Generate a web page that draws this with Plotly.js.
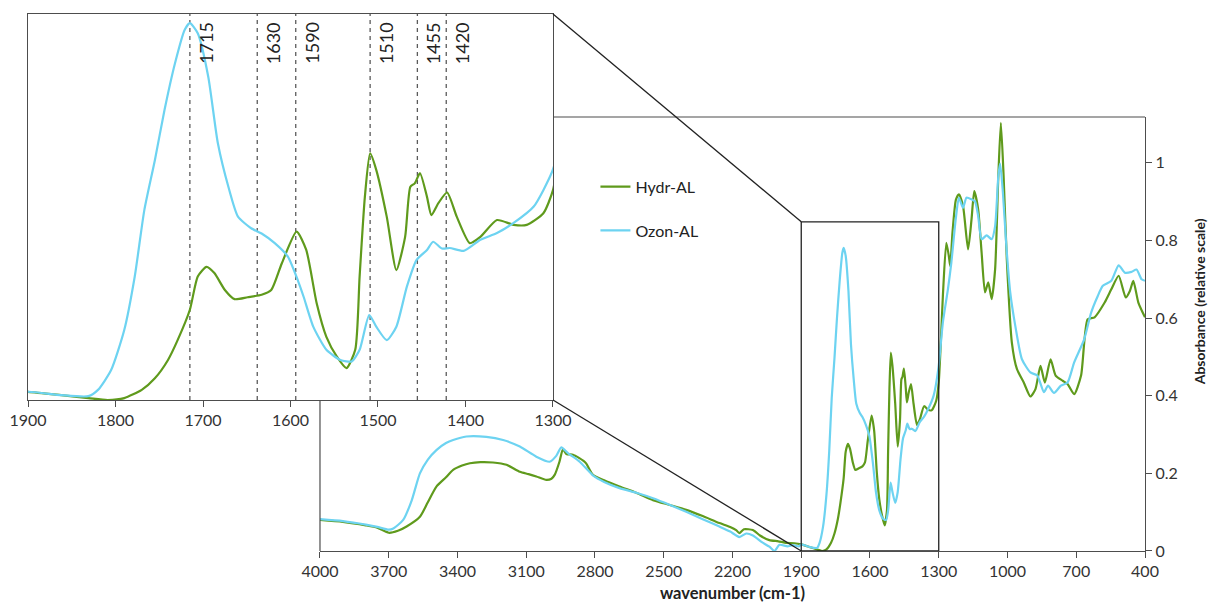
<!DOCTYPE html>
<html>
<head>
<meta charset="utf-8">
<script src="https://cdn.plot.ly/plotly-3.0.1.min.js"></script>
<style>html,body{margin:0;padding:0;background:#fff;}#chart{width:1211px;height:610px;}</style>
</head>
<body>
<div id="chart"></div>
<script>
// ---- data ----
const hydrWn = [4000,3900,3800,3750,3700,3660,3622,3564,3530,3492,3450,3419,3380,3346,3300,3245,3186,3128,3090,3056,3012,2990,2976,2955,2940,2925,2896,2870,2850,2838,2809,2760,2693,2620,2547,2470,2402,2330,2257,2210,2184,2170,2150,2111,2080,2039,2000,1966,1930,
1900,1862,1831,1809,1790,1770,1755,1740,1729,1715,1706,1696,1687,1675,1664,1649,1633,1622,1610,1593,1582,1570,1559,1547,1536,1526,1521,1515,1509,1502,1490,1479,1469,1463,1458,1452,1444,1439,1431,1421,1410,1395,1383,1364,1345,1330,1311,1300,
1290,1282,1267,1256,1250,1240,1225,1212,1194,1172,1157,1145,1128,1113,1098,1084,1069,1054,1040,1029,1017,1003,981,959,929,900,878,856,837,812,790,760,738,709,679,650,620,576,547,515,484,466,451,429,400];
const hydrAbs = [0.080,0.075,0.066,0.060,0.047,0.052,0.063,0.088,0.125,0.166,0.190,0.209,0.220,0.226,0.229,0.228,0.222,0.204,0.198,0.192,0.183,0.186,0.196,0.230,0.262,0.250,0.248,0.240,0.232,0.225,0.196,0.182,0.166,0.150,0.131,0.118,0.106,0.090,0.072,0.062,0.054,0.046,0.056,0.054,0.040,0.028,0.025,0.021,0.020,
0.017,0.010,0.004,0.000,0.004,0.021,0.045,0.083,0.124,0.187,0.256,0.276,0.263,0.228,0.209,0.213,0.218,0.228,0.283,0.349,0.311,0.200,0.131,0.090,0.066,0.104,0.256,0.421,0.511,0.477,0.380,0.269,0.338,0.442,0.449,0.470,0.421,0.383,0.408,0.430,0.380,0.325,0.338,0.373,0.363,0.363,0.387,0.435,
0.550,0.657,0.794,0.760,0.734,0.820,0.905,0.919,0.889,0.777,0.854,0.927,0.880,0.769,0.666,0.692,0.649,0.726,0.966,1.103,0.966,0.751,0.537,0.469,0.434,0.398,0.417,0.477,0.434,0.494,0.452,0.439,0.430,0.404,0.452,0.597,0.602,0.640,0.674,0.709,0.653,0.670,0.696,0.640,0.602];

const ozonWn = [4000,3900,3800,3750,3700,3680,3637,3600,3564,3530,3492,3450,3419,3361,3274,3201,3128,3056,2998,2969,2947,2918,2867,2809,2760,2693,2620,2547,2470,2402,2330,2257,2210,2170,2140,2111,2070,2039,2017,1995,1960,1937,1910,
1900,1862,1831,1820,1805,1790,1778,1767,1755,1744,1732,1721,1715,1706,1694,1683,1671,1660,1645,1633,1618,1603,1591,1585,1574,1559,1543,1530,1521,1510,1502,1490,1479,1467,1456,1444,1437,1427,1418,1402,1383,1364,1345,1322,1301,
1282,1260,1245,1226,1212,1194,1179,1157,1142,1128,1113,1091,1069,1054,1040,1032,1020,1006,988,966,937,900,870,841,823,797,767,738,709,665,635,606,584,547,515,488,459,437,415,400];
const ozonAbs = [0.082,0.077,0.068,0.062,0.055,0.058,0.080,0.130,0.200,0.235,0.260,0.278,0.286,0.295,0.294,0.286,0.269,0.243,0.230,0.245,0.267,0.252,0.230,0.195,0.178,0.162,0.150,0.136,0.118,0.101,0.082,0.063,0.050,0.036,0.045,0.040,0.022,0.011,0.000,0.016,0.012,0.015,0.012,
0.017,0.010,0.008,0.021,0.062,0.145,0.256,0.394,0.497,0.601,0.698,0.767,0.781,0.760,0.670,0.532,0.442,0.380,0.356,0.345,0.325,0.297,0.245,0.214,0.152,0.104,0.083,0.080,0.104,0.176,0.152,0.124,0.152,0.235,0.290,0.311,0.328,0.314,0.315,0.309,0.332,0.346,0.367,0.401,0.473,
0.589,0.674,0.743,0.854,0.910,0.884,0.910,0.906,0.901,0.863,0.803,0.813,0.803,0.837,0.966,0.998,0.923,0.794,0.666,0.580,0.494,0.460,0.452,0.409,0.426,0.407,0.426,0.434,0.486,0.546,0.614,0.657,0.683,0.696,0.736,0.717,0.719,0.725,0.700,0.696];

const seriesNames = ['Hydr-AL','Ozon-AL'];
const peakLabels = ['1715','1630','1590','1510','1455','1420'];
const peakLinePos = [1715,1638,1594,1509,1455,1422];   // where the dashed lines sit in the picture
const mainTicks = [4000,3700,3400,3100,2800,2500,2200,1900,1600,1300,1000,700,400];
const insetTicks = [1900,1800,1700,1600,1500,1400,1300];
const zoomWindow = [1900,1300];
const zoomTop = 0.848;

// ---- styling ----
const GREEN = '#5f9a1c';
const BLUE = '#6dd3f1';
const AX = '#4d4d4d';
const FONT = 'Lato, "Open Sans", sans-serif';

const mainX = [4000,400], mainY = [0,1.118];
const mainDomX = [0.2614,1], mainDomY = [0,0.8082];
const insDomX = [0,0.470], insDomY = [0.2812,1];

function pX(w){return mainDomX[0] + (mainX[0]-w)/(mainX[0]-mainX[1])*(mainDomX[1]-mainDomX[0]);}
function pY(v){return mainDomY[0] + (v-mainY[0])/(mainY[1]-mainY[0])*(mainDomY[1]-mainDomY[0]);}

const lineOpt = (c)=>({color:c,width:2.2,shape:'spline',smoothing:0.6});

const traces = [
 {x:hydrWn,y:hydrAbs,name:seriesNames[0],type:'scatter',mode:'lines',line:lineOpt(GREEN),xaxis:'x',yaxis:'y',legendgroup:'a'},
 {x:ozonWn,y:ozonAbs,name:seriesNames[1],type:'scatter',mode:'lines',line:lineOpt(BLUE),xaxis:'x',yaxis:'y',legendgroup:'b'},
 {x:hydrWn,y:hydrAbs,name:seriesNames[0],type:'scatter',mode:'lines',line:lineOpt(GREEN),xaxis:'x2',yaxis:'y2',showlegend:false},
 {x:ozonWn,y:ozonAbs,name:seriesNames[1],type:'scatter',mode:'lines',line:lineOpt(BLUE),xaxis:'x2',yaxis:'y2',showlegend:false}
];

const shapes = [];
peakLinePos.forEach(p=>shapes.push({type:'line',xref:'x2',yref:'paper',x0:p,x1:p,y0:insDomY[0],y1:insDomY[1],line:{color:'#5a5a5a',width:1.3,dash:'4px,4px'},layer:'below'}));
shapes.push({type:'line',xref:'paper',yref:'paper',x0:insDomX[1],x1:mainDomX[1],y0:mainDomY[1],y1:mainDomY[1],line:{color:AX,width:1.2}});
shapes.push({type:'line',xref:'paper',yref:'paper',x0:mainDomX[0],x1:mainDomX[0],y0:mainDomY[0],y1:insDomY[0],line:{color:AX,width:1.2}});
shapes.push({type:'rect',xref:'x',yref:'y',x0:zoomWindow[0],x1:zoomWindow[1],y0:0,y1:zoomTop,line:{color:'#222',width:1.3}});
shapes.push({type:'line',xref:'paper',yref:'paper',x0:insDomX[1],y0:insDomY[1],x1:pX(zoomWindow[0]),y1:pY(zoomTop),line:{color:'#222',width:1.3}});
shapes.push({type:'line',xref:'paper',yref:'paper',x0:insDomX[1],y0:insDomY[0],x1:pX(zoomWindow[0]),y1:pY(0),line:{color:'#222',width:1.3}});

const annotations = peakLinePos.map((p,i)=>({xref:'x2',yref:'paper',x:p,y:1,xanchor:'left',yanchor:'top',xshift:3,yshift:-6,textangle:-90,showarrow:false,text:peakLabels[i],font:{family:FONT,size:18,color:'#222'}}));
annotations.push({xref:'paper',yref:'paper',x:1.0495,y:0.4637,xanchor:'center',yanchor:'middle',textangle:-90,showarrow:false,borderpad:0,text:'<b>Absorbance (relative scale)</b>',font:{family:FONT,size:14,color:'#222'}});

const axisFont = {family:FONT,size:16,color:'#333'};

const layout = {
 width:1211,height:610,
 margin:{l:28,r:66,t:14,b:59,pad:0},
 paper_bgcolor:'#fff',plot_bgcolor:'rgba(0,0,0,0)',
 font:{family:FONT,color:'#333'},
 showlegend:true,
 legend:{x:0.508,y:0.71,xanchor:'left',yanchor:'top',bgcolor:'rgba(0,0,0,0)',font:{family:FONT,size:16,color:'#222'},tracegroupgap:20,itemwidth:30},
 xaxis:{domain:mainDomX,range:mainX,tickvals:mainTicks,ticktext:mainTicks.map(String),showgrid:false,zeroline:false,showline:true,linecolor:AX,linewidth:1.2,ticks:'outside',ticklen:6,tickcolor:AX,tickfont:axisFont,anchor:'y',
   title:{text:'<b>wavenumber (cm-1)</b>',font:{family:FONT,size:16.5,color:'#222'},standoff:8}},
 yaxis:{domain:mainDomY,range:mainY,side:'right',anchor:'x',tickvals:[0,0.2,0.4,0.6,0.8,1],ticktext:['0','0.2','0.4','0.6','0.8','1'],showgrid:false,zeroline:false,showline:true,linecolor:AX,linewidth:1.2,ticks:'outside',ticklen:6,tickcolor:AX,tickfont:axisFont},
 xaxis2:{domain:insDomX,range:[1900,1300],anchor:'y2',tickvals:insetTicks,ticktext:insetTicks.map(String),showgrid:false,zeroline:false,showline:true,mirror:true,linecolor:AX,linewidth:1.2,ticks:'outside',ticklen:6,tickcolor:AX,tickfont:axisFont},
 yaxis2:{domain:insDomY,range:[0,0.8],anchor:'x2',showgrid:false,zeroline:false,showline:true,mirror:true,linecolor:AX,linewidth:1.2,ticks:'',showticklabels:false},
 shapes:shapes,
 annotations:annotations
};

Plotly.newPlot('chart',traces,layout,{displayModeBar:false,staticPlot:true});
</script>
</body>
</html>
